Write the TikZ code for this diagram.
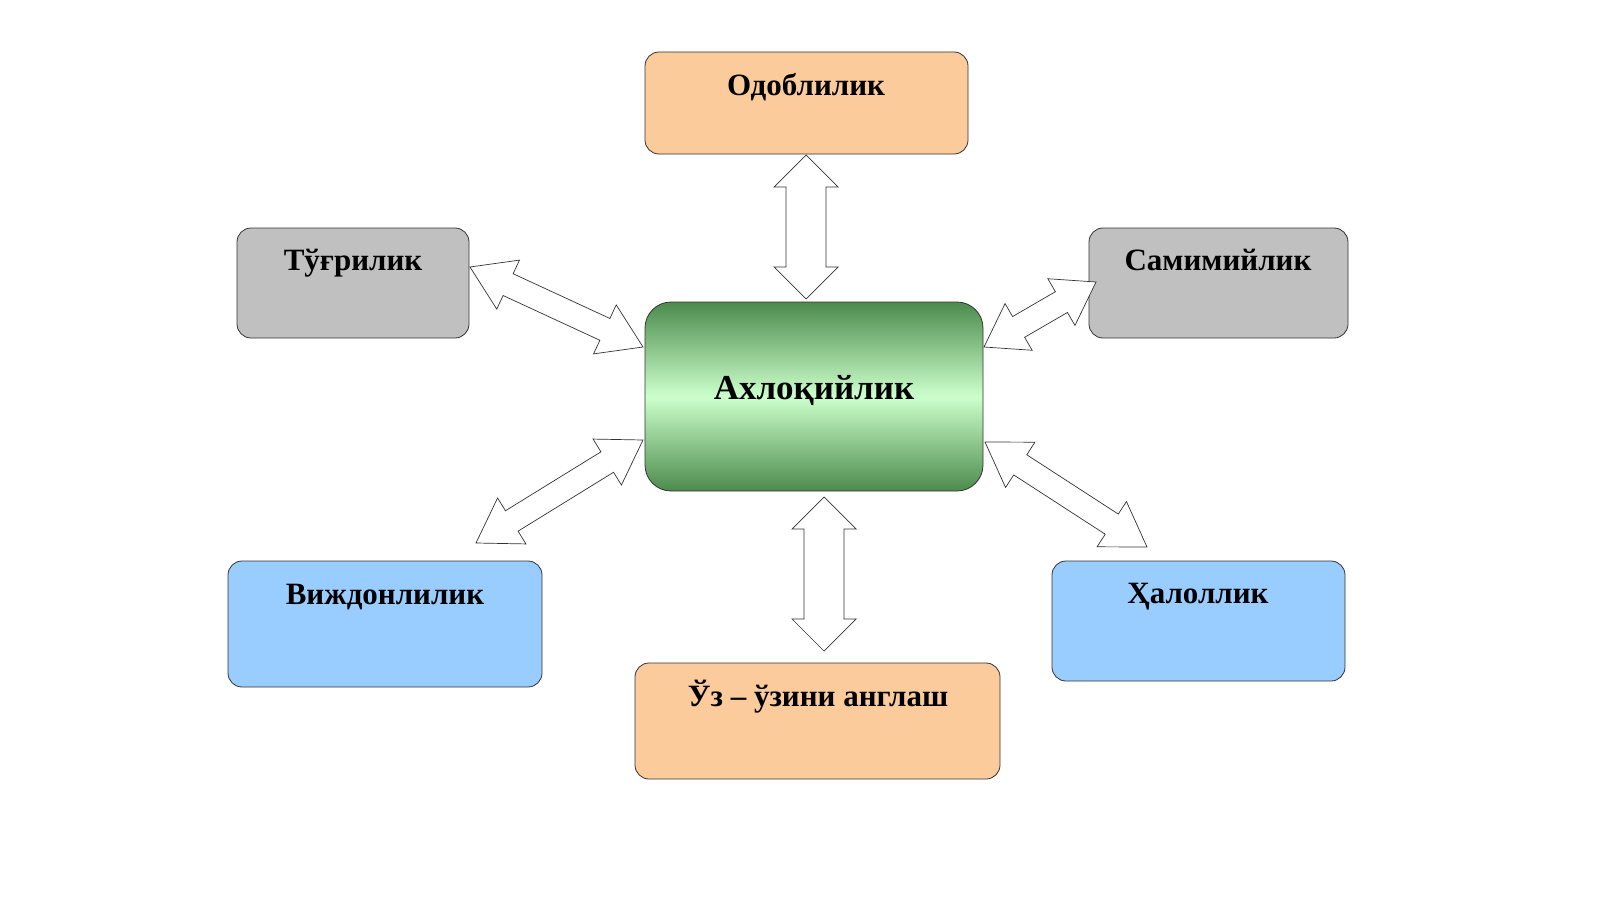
\documentclass[tikz,border=0pt]{standalone}
\usepackage{fontspec}
\setmainfont{Liberation Serif}
\newcommand\dbl[7]{%
 \pgfmathsetmacro\ang{atan2(-((#4)-(#2)),(#3)-(#1))}%
 \pgfmathsetmacro\len{veclen((#3)-(#1),(#4)-(#2))}%
 \pgfmathsetmacro\lh{\len-#7}%
 \draw[arr,shift={(#1,#2)},rotate=\ang] (0,0) -- (#7,#5) -- (#7,#6) -- (\lh,#6) -- (\lh,#5) -- (\len,0)
 -- (\lh,-#5) -- (\lh,-#6) -- (#7,-#6) -- (#7,-#5) -- cycle;}
\begin{document}
\begin{tikzpicture}[x=1pt,y=-1pt,
 box/.style={draw=black!80,line width=0.8pt,rounded corners=14pt},
 lbl/.style={font=\bfseries\fontsize{31}{34}\selectfont,inner sep=0pt},
 arr/.style={draw=black!80,line width=0.7pt,fill=white,line join=miter}]
\definecolor{org}{HTML}{FBCB9B}
\definecolor{gry}{HTML}{C0C0C0}
\definecolor{blu}{HTML}{99CCFF}
\fill[white] (0,0) rectangle (1600,899);
\node[box,fill=org,minimum width=323pt,minimum height=102pt] (od) at (806.5,103) {};
\node[box,fill=gry,minimum width=232pt,minimum height=110pt] (tu) at (353,283) {};
\node[box,fill=gry,minimum width=259pt,minimum height=110pt] (sa) at (1218.5,283) {};
\node[box,top color=green!35!black!70,bottom color=green!35!black!70,middle color=green!20!white,rounded corners=26pt,minimum width=338pt,minimum height=189pt] (ax) at (814,396.5) {};
\node[box,fill=blu,minimum width=314pt,minimum height=126pt] (vi) at (385,624) {};
\node[box,fill=blu,minimum width=293pt,minimum height=120pt] (ha) at (1198.5,621) {};
\node[box,fill=org,minimum width=365pt,minimum height=116pt] (uz) at (817.5,721) {};
\node[lbl] at (806,87) {Одоблилик};
\node[lbl] at (353,263) {Тўғрилик};
\node[lbl] at (1218,260) {Самимийлик};
\node[lbl,font=\bfseries\fontsize{35}{38}\selectfont] at (814,390) {Ахлоқийлик};
\node[lbl] at (385,597) {Виждонлилик};
\node[lbl] at (1198,597) {Ҳалоллик};
\node[lbl] at (818,697) {Ўз – ўзини англаш};
\dbl{806}{155}{806}{299}{32}{20}{32}
\dbl{824}{497}{824}{651}{32}{20}{32}
\dbl{470}{267}{643}{347}{27}{12}{42}
\dbl{984}{347}{1096}{282}{27}{12}{40}
\dbl{476}{543}{643}{440}{27}{12}{42}
\dbl{985}{442}{1147}{547}{27}{12}{42}
\pgfresetboundingbox
\path[use as bounding box] (0,0) rectangle (1600,899);
\end{tikzpicture}
\end{document}
